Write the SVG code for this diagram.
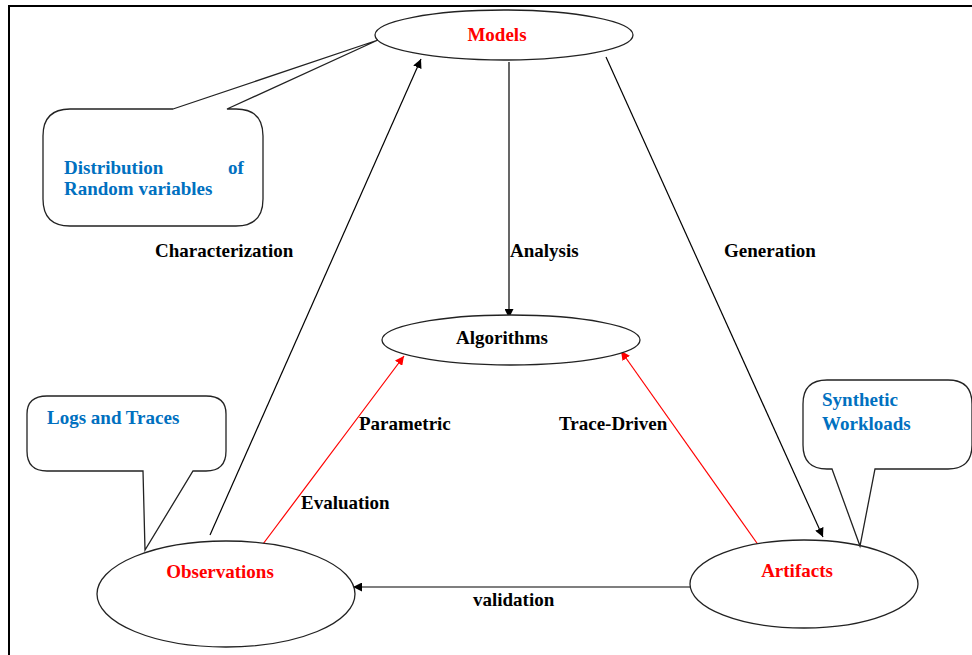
<svg xmlns="http://www.w3.org/2000/svg" width="972" height="655" viewBox="0 0 972 655">
<defs>
<style>
.shape{fill:#fff;stroke:#222;stroke-width:1.3}
.t{font-family:"Liberation Serif","Times New Roman",serif;font-weight:bold;font-size:19px}
.red{fill:#ff0000}
.blue{fill:#0070c0}
.blk{fill:#000}
.c{stroke:#000;stroke-width:1.2;fill:none}
.cr{stroke:#ff0000;stroke-width:1.2;fill:none}
</style>
<marker id="ah" viewBox="0 0 10 10" refX="10" refY="5" markerWidth="9" markerHeight="9" markerUnits="userSpaceOnUse" orient="auto"><path d="M0,0 L10,5 L0,10 Z" fill="#000"/></marker>
<marker id="ahr" viewBox="0 0 10 10" refX="10" refY="5" markerWidth="9" markerHeight="9" markerUnits="userSpaceOnUse" orient="auto"><path d="M0,0 L10,5 L0,10 Z" fill="#ff0000"/></marker>
</defs>
<rect width="972" height="655" fill="#fff"/>
<path d="M9,655 V6 H972" fill="none" stroke="#000" stroke-width="2"/>

<g id="connectors">
<line class="c" x1="210" y1="535" x2="421" y2="59" marker-end="url(#ah)"/>
<line class="c" x1="509" y1="62" x2="509" y2="318" marker-end="url(#ah)"/>
<line class="c" x1="606" y1="57" x2="823" y2="537" marker-end="url(#ah)"/>
<line class="cr" x1="263" y1="544" x2="404" y2="356" marker-end="url(#ahr)"/>
<line class="cr" x1="759" y1="546" x2="621" y2="351" marker-end="url(#ahr)"/>
<line class="c" x1="690" y1="587" x2="353" y2="587" marker-end="url(#ah)"/>
<text class="t blk" x="155" y="257">Characterization</text>
<text class="t blk" x="510" y="257">Analysis</text>
<text class="t blk" x="724" y="257">Generation</text>
<text class="t blk" x="359" y="430">Parametric</text>
<text class="t blk" x="559" y="430">Trace-Driven</text>
<text class="t blk" x="301" y="509">Evaluation</text>
<text class="t blk" x="473" y="606">validation</text>
</g>

<g id="models">
<ellipse class="shape" cx="504" cy="35" rx="129" ry="25"/>
<text class="t red" x="497" y="41" text-anchor="middle">Models</text>
</g>
<g id="algorithms">
<ellipse class="shape" cx="511" cy="340" rx="129" ry="25"/>
<text class="t blk" x="502" y="344" text-anchor="middle">Algorithms</text>
</g>
<g id="observations">
<ellipse class="shape" cx="226" cy="594" rx="129" ry="53"/>
<text class="t red" x="220" y="578" text-anchor="middle">Observations</text>
</g>
<g id="artifacts">
<ellipse class="shape" cx="804" cy="584" rx="114" ry="44"/>
<text class="t red" x="797" y="577" text-anchor="middle">Artifacts</text>
</g>

<g id="callout-distribution">
<path class="shape" d="M173,109 L378,40 L227,109 H236 Q263,109 263,136 V199 Q263,226 236,226 H70 Q43,226 43,199 V136 Q43,109 70,109 Z"/>
<text class="t blue" x="64" y="174">Distribution</text>
<text class="t blue" x="228" y="174">of</text>
<text class="t blue" x="64" y="195">Random variables</text>
</g>
<g id="callout-logs">
<path class="shape" d="M143,471 L145,550 L193,471 H206 Q226,471 226,451 V414 Q226,396 206,396 H47 Q27,396 27,414 V451 Q27,471 47,471 Z"/>
<text class="t blue" x="47" y="424">Logs and Traces</text>
</g>
<g id="callout-synthetic">
<path class="shape" d="M832,469 L860,546 L875,469 H948 Q972,469 972,445 V404 Q972,380 948,380 H827 Q803,380 803,404 V445 Q803,469 827,469 Z"/>
<text class="t blue" x="822" y="406">Synthetic</text>
<text class="t blue" x="822" y="430">Workloads</text>
</g>
</svg>
